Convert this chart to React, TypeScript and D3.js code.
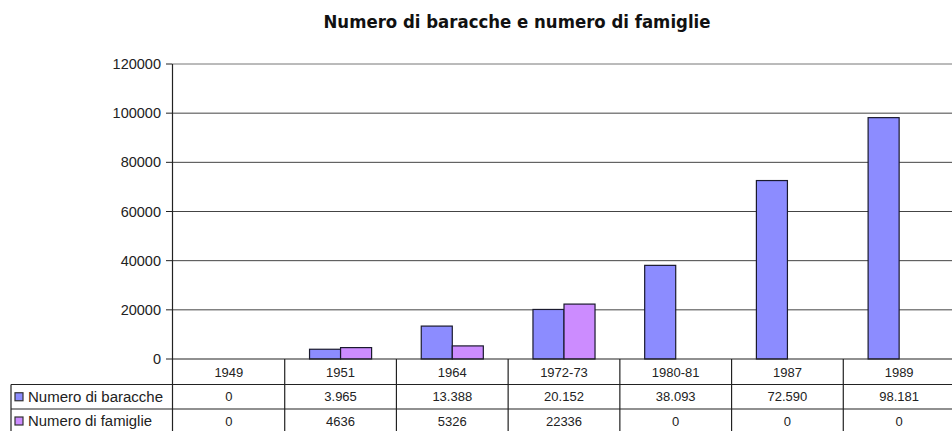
import React from "react";
import * as d3 from "d3";

const categories = ["1949", "1951", "1964", "1972-73", "1980-81", "1987", "1989"];
const baracche = [0, 3965, 13388, 20152, 38093, 72590, 98181];
const famiglie = [0, 4636, 5326, 22336, 0, 0, 0];
const seriesNames = ["Numero di baracche", "Numero di famiglie"];
const yTicks = [0, 20000, 40000, 60000, 80000, 100000, 120000];
const title = "Numero di baracche e numero di famiglie";

const W = 952;
const H = 431;
const colors = ["#8c8cff", "#cc8cff"];

const itLocale = d3.formatLocale({ decimal: ",", thousands: ".", grouping: [3], currency: ["€", ""] });
const fmtDot = itLocale.format(",d");
const fmtPlain = d3.format("d");

export default function App() {
  const x0 = 173;
  const x1 = 955;
  const yTop = 64;
  const yBase = 359;
  const row1 = 384.5;
  const row2 = 409;
  const x = d3.scaleBand<string>().domain(categories).range([x0, x1]).paddingInner(0).paddingOuter(0);
  const sub = d3.scaleBand<number>().domain([0, 1]).range([0, x.bandwidth()]).paddingInner(0).paddingOuter(0.8);
  const y = d3.scaleLinear().domain([0, 120000]).range([yBase, yTop]);
  const series = [baracche, famiglie];
  const fmts = [fmtDot, fmtPlain];
  const font = "'Liberation Sans', Arial, sans-serif";

  return (
    <svg width={W} height={H} style={{ position: "absolute", left: 0, top: 0, background: "#fff" }}>
      <rect x={0} y={0} width={W} height={H} fill="#fff" />
      <text
        x={517}
        y={28}
        textAnchor="middle"
        fontFamily="'Liberation Sans Narrow', 'DejaVu Sans Condensed', Arial, sans-serif"
        fontWeight="bold"
        fontSize={18}
        textLength={387}
        lengthAdjust="spacingAndGlyphs"
        fill="#111"
      >
        {title}
      </text>

      {/* gridlines */}
      {yTicks.map((t) =>
        t === 0 ? null : (
          <line key={"g" + t} x1={x0 - 1} x2={x1} y1={y(t)} y2={y(t)} stroke={t === 120000 ? "#777" : "#444"} strokeWidth={1} />
        )
      )}
      {/* y tick marks and labels */}
      {yTicks.map((t) => (
        <g key={"t" + t}>
          <line x1={166} x2={172} y1={y(t)} y2={y(t)} stroke="#222" />
          <text x={161} y={y(t)} dy="0.35em" textAnchor="end" fontFamily={font} fontSize={14.5} fill="#222">
            {t}
          </text>
        </g>
      ))}

      {/* bars */}
      {series.map((vals, si) =>
        categories.map((c, i) =>
          vals[i] > 0 ? (
            <rect
              key={`b${si}-${i}`}
              x={(x(c) as number) + (sub(si) as number)}
              y={y(vals[i])}
              width={sub.bandwidth()}
              height={yBase - y(vals[i])}
              fill={colors[si]}
              stroke="#1a1a2e"
              strokeWidth={1.2}
            />
          ) : null
        )
      )}

      {/* axes */}
      <line x1={172.5} x2={172.5} y1={yTop} y2={H} stroke="#222" strokeWidth={1.2} />
      <line x1={172} x2={x1} y1={yBase} y2={yBase} stroke="#222" strokeWidth={1.2} />

      {/* data table */}
      <line x1={11} x2={x1} y1={row1} y2={row1} stroke="#222" strokeWidth={1.2} />
      <line x1={11} x2={x1} y1={row2} y2={row2} stroke="#222" strokeWidth={1.2} />
      <line x1={11} x2={11} y1={row1} y2={H} stroke="#222" strokeWidth={1.2} />
      {categories.map((c, i) =>
        i === 0 ? null : (
          <line key={"v" + c} x1={x(c)} x2={x(c)} y1={yBase} y2={H} stroke="#222" strokeWidth={1.2} />
        )
      )}
      {categories.map((c) => (
        <text
          key={"h" + c}
          x={(x(c) as number) + x.bandwidth() / 2}
          y={(yBase + row1) / 2}
          dy="0.38em"
          textAnchor="middle"
          fontFamily={font}
          fontSize={13}
          fill="#222"
        >
          {c}
        </text>
      ))}
      {series.map((vals, si) => {
        const top = si === 0 ? row1 : row2;
        const bottom = si === 0 ? row2 : 433;
        const cy = (top + bottom) / 2;
        return (
          <g key={"r" + si}>
            <rect x={15} y={cy - 4} width={8} height={8} fill={colors[si]} stroke="#333" strokeWidth={1.2} />
            <text x={28} y={cy} dy="0.36em" fontFamily={font} fontSize={14} fill="#222" textLength={si === 0 ? 135 : 124} lengthAdjust="spacingAndGlyphs">
              {seriesNames[si]}
            </text>
            {categories.map((c, i) => (
              <text
                key={`v${si}-${i}`}
                x={(x(c) as number) + x.bandwidth() / 2}
                y={cy}
                dy="0.36em"
                textAnchor="middle"
                fontFamily={font}
                fontSize={13}
                fill="#222"
              >
                {fmts[si](vals[i])}
              </text>
            ))}
          </g>
        );
      })}
    </svg>
  );
}
